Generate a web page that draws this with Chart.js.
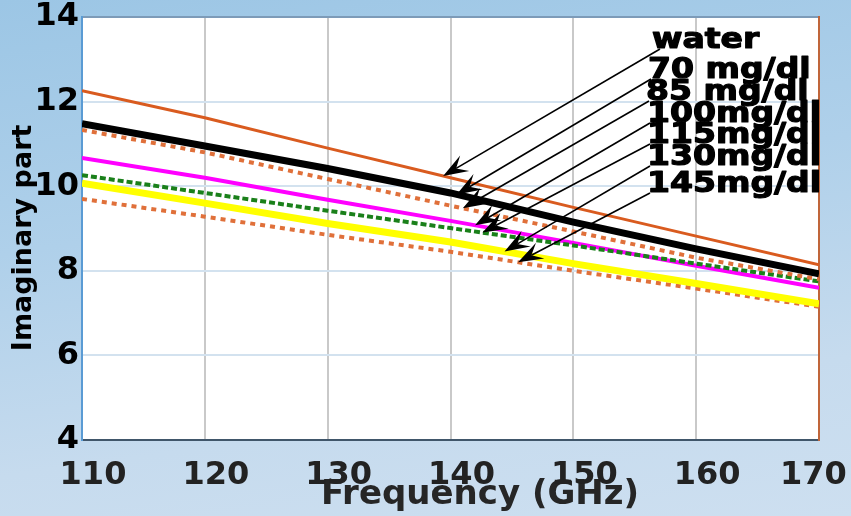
<!DOCTYPE html>
<html><head><meta charset="utf-8">
<script src="https://cdn.jsdelivr.net/npm/chart.js@4"></script>
<style>
html,body{margin:0;padding:0;}
body{width:851px;height:516px;overflow:hidden;background:linear-gradient(172deg,#9cc6e5 0%,#afd0ea 40%,#c6dbee 75%,#cddff0 100%);}
#wrap{position:relative;width:851px;height:516px;}
</style></head><body>
<div id="wrap"><canvas id="c"></canvas></div>
<script>
// ---- data ----
const frequencies = [110, 120, 130, 140, 150, 160, 170];
const water = [12.26, 11.62, 10.90, 10.20, 9.50, 8.82, 8.14];
const mg70  = [11.48, 10.95, 10.42, 9.84, 9.15, 8.52, 7.93];
const mg85  = [11.33, 10.80, 10.17, 9.54, 8.93, 8.31, 7.80];
const mg100 = [10.67, 10.20, 9.68, 9.18, 8.66, 8.12, 7.60];
const mg115 = [10.26, 9.84, 9.42, 9.01, 8.60, 8.17, 7.75];
const mg130 = [10.07, 9.60, 9.12, 8.68, 8.17, 7.70, 7.22];
const mg145 = [9.70, 9.28, 8.85, 8.45, 8.00, 7.58, 7.15];
const seriesLabels = ['water', '70 mg/dl', '85 mg/dl', '100mg/dl', '115mg/dl', '130mg/dl', '145mg/dl'];
const xTicks = [110, 120, 130, 140, 150, 160, 170];
const yTicks = [4, 6, 8, 10, 12, 14];
const arrowTargetFreq = [139.4, 140.5, 141.0, 142.0, 142.6, 144.4, 145.5];

// ---- styling (kept separate from data) ----
const seriesData = [water, mg70, mg85, mg100, mg115, mg130, mg145];
const styles = [
  {color:'#d95b1f', width:3, dash:[]},
  {color:'#000000', width:7, dash:[]},
  {color:'#e0703a', width:4, dash:[5,5]},
  {color:'#ff00ff', width:4, dash:[]},
  {color:'#1a801a', width:4, dash:[6,3]},
  {color:'#ffff00', width:7, dash:[]},
  {color:'#e0703a', width:4, dash:[5,5]}
];
const drawOrder = [1, 0, 2, 4, 3, 5, 6];
const annoLayout = {
  dx: [-167, -171, -173, -172, -172, -172, -172],
  dy: [31, 61, 83, 105, 126, 148, 175],
  font: 'bold 28px "DejaVu Sans"',
  stretch: 1.18
};

function valueAt(arr, f) {
  for (let i = 0; i < frequencies.length - 1; i++) {
    if (f >= frequencies[i] && f <= frequencies[i+1]) {
      const t = (f - frequencies[i]) / (frequencies[i+1] - frequencies[i]);
      return arr[i] + t * (arr[i+1] - arr[i]);
    }
  }
  return arr[arr.length-1];
}

const datasets = seriesData.map((arr, i) => ({
  label: seriesLabels[i],
  data: frequencies.map((f, k) => ({x: f, y: arr[k]})),
  borderColor: styles[i].color,
  borderWidth: styles[i].width,
  borderDash: styles[i].dash,
  pointRadius: 0,
  tension: 0,
  fill: false,
  order: drawOrder[i]
}));

const plotBg = {
  id: 'plotBg',
  beforeDraw(chart) {
    const {ctx, chartArea: a} = chart;
    ctx.save();
    ctx.fillStyle = '#ffffff';
    ctx.fillRect(a.left, a.top, a.right - a.left, a.bottom - a.top);
    ctx.restore();
  }
};

const annotate = {
  id: 'annotate',
  afterDatasetsDraw(chart) {
    const {ctx, chartArea: a, scales} = chart;
    const xs = scales.x, ys = scales.y;
    ctx.save();
    seriesLabels.forEach((lab, i) => {
      const tx = a.right + annoLayout.dx[i];
      const ty = a.top + annoLayout.dy[i];
      const f = arrowTargetFreq[i];
      const px = xs.getPixelForValue(f);
      const py = ys.getPixelForValue(valueAt(seriesData[i], f));
      const sx = tx + (i === 0 ? 8 : 3), sy = ty + 1;
      const dx = px - sx, dy = py - sy, L = Math.hypot(dx, dy);
      const ux = dx / L, uy = dy / L;
      const nx = -uy, ny = ux;
      const hl = 25, hw = 9, notch = 15;
      ctx.strokeStyle = '#000';
      ctx.lineWidth = 1.6;
      ctx.beginPath();
      ctx.moveTo(sx, sy);
      ctx.lineTo(px - ux * notch, py - uy * notch);
      ctx.stroke();
      ctx.fillStyle = '#000';
      ctx.beginPath();
      ctx.moveTo(px, py);
      ctx.lineTo(px - ux * hl + nx * hw, py - uy * hl + ny * hw);
      ctx.lineTo(px - ux * notch, py - uy * notch);
      ctx.lineTo(px - ux * hl - nx * hw, py - uy * hl - ny * hw);
      ctx.closePath();
      ctx.fill();
    });
    ctx.font = annoLayout.font;
    ctx.fillStyle = '#000';
    ctx.strokeStyle = '#000';
    ctx.lineWidth = 1.2;
    ctx.lineJoin = 'round';
    ctx.textAlign = 'left';
    ctx.textBaseline = 'alphabetic';
    seriesLabels.forEach((lab, i) => {
      const tx = a.right + annoLayout.dx[i];
      const ty = a.top + annoLayout.dy[i];
      ctx.save();
      ctx.translate(tx, ty);
      ctx.scale(annoLayout.stretch, 1);
      ctx.fillText(lab, 0, 0);
      ctx.strokeText(lab, 0, 0);
      ctx.restore();
    });
    ctx.restore();
  }
};

new Chart(document.getElementById('c'), {
  type: 'line',
  data: {datasets},
  plugins: [plotBg, annotate],
  options: {
    responsive: true,
    maintainAspectRatio: false,
    devicePixelRatio: 1,
    animation: false,
    layout: {padding: {left: 0, top: 17, right: 32, bottom: 0}},
    plugins: {legend: {display: false}, tooltip: {enabled: false}},
    scales: {
      x: {
        type: 'linear', position: 'bottom', min: 110, max: 170,
        afterBuildTicks: s => { s.ticks = xTicks.map(v => ({value: v})); },
        afterFit: s => { s.height = 76; s.paddingLeft = 0; s.paddingRight = 0; },
        ticks: {
          autoSkip: false, maxRotation: 0, minRotation: 0,
          padding: 16, labelOffset: 11,
          color: '#222',
          font: {family: '"DejaVu Sans"', size: 32, weight: 'bold'},
          callback: v => v === 170 ? '170   ' : String(v)
        },
        grid: {color: '#c9c9c9', lineWidth: 2, drawTicks: false},
        border: {color: '#40566a', width: 2},
        title: {
          display: true, text: '     Frequency (GHz)', color: '#262626',
          font: {family: '"DejaVu Sans"', size: 34, weight: 'bold'},
          padding: {top: 0, bottom: 0}
        }
      },
      x2: {
        type: 'linear', position: 'top', min: 110, max: 170,
        afterFit: s => { s.height = 0; s.paddingLeft = 0; s.paddingRight = 0; },
        ticks: {display: false},
        grid: {display: false, drawTicks: false},
        border: {color: '#7d9bb8', width: 2}
      },
      y: {
        type: 'linear', position: 'left', min: 4, max: 14,
        afterBuildTicks: s => { s.ticks = yTicks.map(v => ({value: v})); },
        afterFit: s => { s.width = 82; s.paddingTop = 0; s.paddingBottom = 0; },
        ticks: {
          padding: 3, color: '#000',
          font: {family: '"DejaVu Sans"', size: 32, weight: 'bold'}
        },
        grid: {color: '#d3e2ef', lineWidth: 2, drawTicks: false},
        border: {color: '#5a9bd4', width: 2},
        title: {
          display: true, text: 'Imaginary part  ', color: '#000',
          font: {family: '"DejaVu Sans"', size: 27, weight: 'bold'},
          padding: {top: 8, bottom: 0}
        }
      },
      y2: {
        type: 'linear', position: 'right', min: 4, max: 14,
        afterFit: s => { s.width = 0; s.paddingTop = 0; s.paddingBottom = 0; },
        ticks: {display: false},
        grid: {display: false, drawTicks: false},
        border: {color: '#c0653a', width: 2}
      }
    }
  }
});
</script>
</body></html>
